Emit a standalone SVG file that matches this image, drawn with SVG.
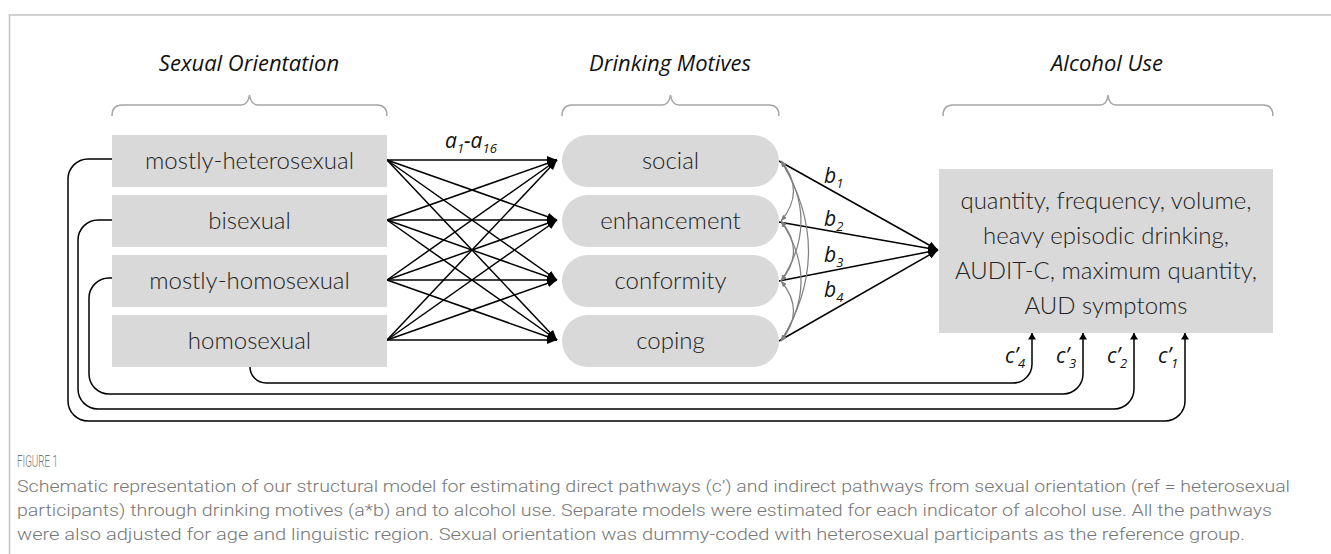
<svg xmlns="http://www.w3.org/2000/svg" width="1331" height="554" viewBox="0 0 1331 554">
<style>
.box{fill:#d9d9d9}
.lbl{font-family:Lato,"Open Sans",sans-serif;font-size:24px;fill:#222;text-anchor:middle;font-weight:300}
.ttl{font-family:"Open Sans",Lato,sans-serif;font-style:italic;font-size:22px;fill:#111;text-anchor:middle;font-weight:400}
.brace{fill:none;stroke:#a6a6a6;stroke-width:1.5}
.arr{stroke:#000;stroke-width:1.5;fill:none;marker-end:url(#ah)}
.cp{stroke:#000;stroke-width:1.5;fill:none;marker-end:url(#ah2)}
.cov{stroke:#7f7f7f;stroke-width:1.2;fill:none;marker-start:url(#gh);marker-end:url(#gh)}
.pl{font-family:"Open Sans",Lato,sans-serif;font-style:italic;font-size:21px;fill:#111}
.sub{font-size:13px}
.cap{font-family:Roboto,"Liberation Sans",sans-serif;fill:#777;font-size:17px;font-weight:300}
.frame{stroke:#c4c4c4;stroke-width:1.5;fill:none}
</style>
<defs>
<marker id="ah" viewBox="0 0 10 8" refX="10" refY="4" markerWidth="10" markerHeight="8" markerUnits="userSpaceOnUse" orient="auto"><path d="M0,0 L10,4 L0,8 z" fill="#000"/></marker>
<marker id="ah2" viewBox="0 0 8 10" refX="8" refY="5" markerWidth="10" markerHeight="8" markerUnits="userSpaceOnUse" orient="auto"><path d="M0,0 L8,5 L0,10 z" fill="#000"/></marker>
<marker id="gh" viewBox="0 0 6 5" refX="6" refY="2.5" markerWidth="6" markerHeight="5" markerUnits="userSpaceOnUse" orient="auto-start-reverse"><path d="M0,0 L6,2.5 L0,5 z" fill="#7f7f7f"/></marker>
</defs>
<rect width="1331" height="554" fill="#fff"/>
<path class="frame" d="M9.5,554 V15 H1331"/>

<g id="titles">
<text class="ttl" x="249" y="71">Sexual Orientation</text>
<text class="ttl" x="670" y="71">Drinking Motives</text>
<text class="ttl" x="1107" y="71">Alcohol Use</text>
<path class="brace" d="M112,116 Q112,105 122,105 H241 Q248,105 249.5,95 Q251,105 258,105 H377 Q387,105 387,116"/>
<path class="brace" d="M562,116 Q562,105 572,105 H662 Q669,105 670.5,95 Q672,105 679,105 H769 Q779,105 779,116"/>
<path class="brace" d="M943,116 Q943,105 953,105 H1100 Q1107,105 1108,95 Q1109,105 1116,105 H1263 Q1273,105 1273,116"/>
</g>

<g id="connectors">
<g id="a-paths">
<line class="arr" x1="387" y1="160" x2="557" y2="160"/>
<line class="arr" x1="387" y1="160" x2="557" y2="220"/>
<line class="arr" x1="387" y1="160" x2="557" y2="280"/>
<line class="arr" x1="387" y1="160" x2="557" y2="340"/>
<line class="arr" x1="387" y1="220" x2="557" y2="160"/>
<line class="arr" x1="387" y1="220" x2="557" y2="220"/>
<line class="arr" x1="387" y1="220" x2="557" y2="280"/>
<line class="arr" x1="387" y1="220" x2="557" y2="340"/>
<line class="arr" x1="387" y1="280" x2="557" y2="160"/>
<line class="arr" x1="387" y1="280" x2="557" y2="220"/>
<line class="arr" x1="387" y1="280" x2="557" y2="280"/>
<line class="arr" x1="387" y1="280" x2="557" y2="340"/>
<line class="arr" x1="387" y1="340" x2="557" y2="160"/>
<line class="arr" x1="387" y1="340" x2="557" y2="220"/>
<line class="arr" x1="387" y1="340" x2="557" y2="280"/>
<line class="arr" x1="387" y1="340" x2="557" y2="340"/>
</g>
<g id="b-paths">
<line class="arr" x1="779" y1="161" x2="938" y2="250"/>
<line class="arr" x1="779" y1="222" x2="938" y2="250"/>
<line class="arr" x1="779" y1="281" x2="938" y2="250"/>
<line class="arr" x1="779" y1="341" x2="938" y2="250"/>
</g>
<g id="covariances">
<path class="cov" d="M781,161 Q806,191 781,221"/>
<path class="cov" d="M781,161 Q821,221 781,281"/>
<path class="cov" d="M781,161 Q836,251 781,341"/>
<path class="cov" d="M781,221 Q806,251 781,281"/>
<path class="cov" d="M781,221 Q821,281 781,341"/>
<path class="cov" d="M781,281 Q806,311 781,341"/>
</g>
<g id="c-paths">
<path class="cp" d="M112,159 H88 A20,20 0 0 0 68,179 V401 A20,20 0 0 0 88,421 H1165 A20,20 0 0 0 1185,401 V333"/>
<path class="cp" d="M112,220 H98 A20,20 0 0 0 78,240 V389 A20,20 0 0 0 98,409 H1114 A20,20 0 0 0 1134,389 V333"/>
<path class="cp" d="M112,278 H109 A20,20 0 0 0 89,298 V374 A20,20 0 0 0 109,394 H1063 A20,20 0 0 0 1083,374 V333"/>
<path class="cp" d="M250,367 A16,16 0 0 0 266,383 H1013 A19,19 0 0 0 1032,364 V333"/>
</g>
<g id="path-labels">
<text class="pl" x="445" y="148">a<tspan class="sub" dy="5">1</tspan><tspan dy="-5">-a</tspan><tspan class="sub" dy="5">16</tspan></text>
<text class="pl" x="824" y="183">b<tspan class="sub" dy="5">1</tspan></text>
<text class="pl" x="824" y="226">b<tspan class="sub" dy="5">2</tspan></text>
<text class="pl" x="824" y="262">b<tspan class="sub" dy="5">3</tspan></text>
<text class="pl" x="824" y="297">b<tspan class="sub" dy="5">4</tspan></text>
<text class="pl" x="1005" y="363">c’<tspan class="sub" dy="5">4</tspan></text>
<text class="pl" x="1056" y="363">c’<tspan class="sub" dy="5">3</tspan></text>
<text class="pl" x="1107" y="363">c’<tspan class="sub" dy="5">2</tspan></text>
<text class="pl" x="1158" y="363">c’<tspan class="sub" dy="5">1</tspan></text>
</g>
</g>

<g id="so-mostly-heterosexual"><rect class="box" x="112" y="135" width="275" height="52"/><text class="lbl" x="249.5" y="169">mostly-heterosexual</text></g>
<g id="so-bisexual"><rect class="box" x="112" y="195" width="275" height="52"/><text class="lbl" x="249.5" y="229">bisexual</text></g>
<g id="so-mostly-homosexual"><rect class="box" x="112" y="255" width="275" height="52"/><text class="lbl" x="249.5" y="289">mostly-homosexual</text></g>
<g id="so-homosexual"><rect class="box" x="112" y="315" width="275" height="52"/><text class="lbl" x="249.5" y="349">homosexual</text></g>

<g id="dm-social"><rect class="box" x="562" y="135" width="217" height="52" rx="26"/><text class="lbl" x="670.5" y="169">social</text></g>
<g id="dm-enhancement"><rect class="box" x="562" y="195" width="217" height="52" rx="26"/><text class="lbl" x="670.5" y="229">enhancement</text></g>
<g id="dm-conformity"><rect class="box" x="562" y="255" width="217" height="52" rx="26"/><text class="lbl" x="670.5" y="289">conformity</text></g>
<g id="dm-coping"><rect class="box" x="562" y="315" width="217" height="52" rx="26"/><text class="lbl" x="670.5" y="349">coping</text></g>

<g id="alcohol-use">
<rect class="box" x="939" y="169" width="334" height="164"/>
<text class="lbl" x="1106" y="209">quantity, frequency, volume,</text>
<text class="lbl" x="1106" y="244">heavy episodic drinking,</text>
<text class="lbl" x="1106" y="279">AUDIT-C, maximum quantity,</text>
<text class="lbl" x="1106" y="314">AUD symptoms</text>
</g>

<g id="caption">
<text class="cap" x="17" y="467" font-size="12" textLength="41" lengthAdjust="spacingAndGlyphs" fill="#999">FIGURE 1</text>
<text class="cap" x="17" y="492" textLength="1273" lengthAdjust="spacingAndGlyphs">Schematic representation of our structural model for estimating direct pathways (c’) and indirect pathways from sexual orientation (ref = heterosexual</text>
<text class="cap" x="17" y="516" textLength="1255" lengthAdjust="spacingAndGlyphs">participants) through drinking motives (a*b) and to alcohol use. Separate models were estimated for each indicator of alcohol use. All the pathways</text>
<text class="cap" x="17" y="540" textLength="1228" lengthAdjust="spacingAndGlyphs">were also adjusted for age and linguistic region. Sexual orientation was dummy-coded with heterosexual participants as the reference group.</text>
</g>
</svg>
